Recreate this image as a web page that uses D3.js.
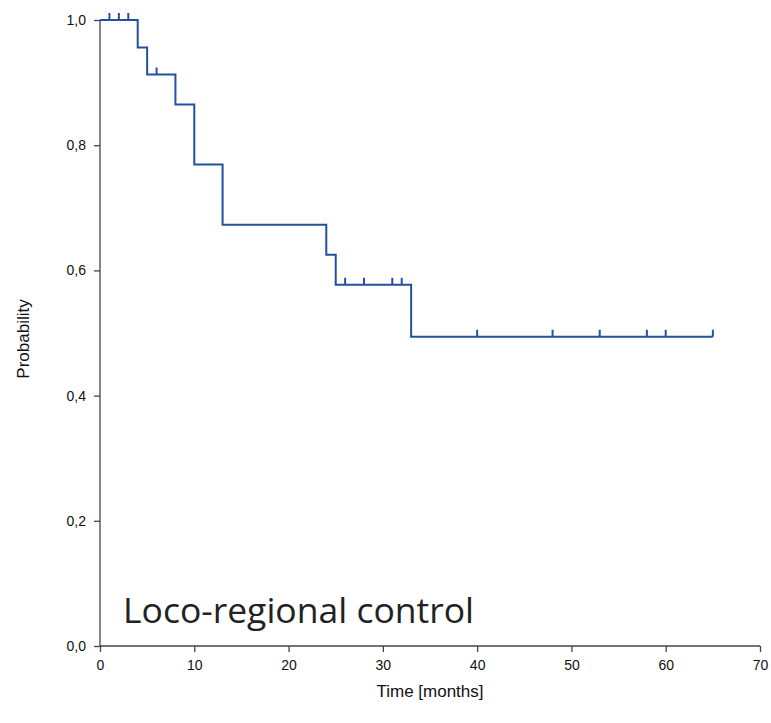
<!DOCTYPE html>
<html><head><meta charset="utf-8">
<script src="https://cdn.jsdelivr.net/npm/d3@7"></script>
<style>body{margin:0;background:#fff}svg text{font-family:"Liberation Sans",Arial,sans-serif}</style>
</head><body><svg id="c" width="771" height="723"></svg>
<script>
// step times and survival estimates
var stepTimes = [0, 4, 5, 8, 10, 13, 24, 25, 33, 65];
var stepProb = [1.0, 0.956, 0.913, 0.865, 0.769, 0.673, 0.625, 0.577, 0.494, 0.494];
var censorTimes = [1, 2, 3, 6, 26, 28, 31, 32, 40, 48, 53, 58, 60, 65];
var xTicks = [0, 10, 20, 30, 40, 50, 60, 70];
var yTicks = [0, 0.2, 0.4, 0.6, 0.8, 1.0];

var margin = {top: 20, left: 100, right: 11, bottom: 77};
var W = 771 - margin.left - margin.right, H = 723 - margin.top - margin.bottom;
var svg = d3.select("#c");
var g = svg.append("g").attr("transform", "translate(" + margin.left + "," + margin.top + ")");
var x = d3.scaleLinear().domain([0, 70]).range([0, W]);
var y = d3.scaleLinear().domain([0, 1]).range([H, 0]);
var fmt = function(d) { return d3.format(".1f")(d).replace(".", ","); };

var xa = g.append("g").attr("transform", "translate(0," + H + ")")
  .call(d3.axisBottom(x).tickValues(xTicks).tickSize(6).tickPadding(8));
var ya = g.append("g").call(d3.axisLeft(y).tickValues(yTicks).tickFormat(fmt).tickSize(6).tickPadding(8));
[xa, ya].forEach(function(a) {
  a.select(".domain").attr("stroke", "#444").attr("stroke-width", 1.3);
  a.selectAll(".tick line").attr("stroke", "#444").attr("stroke-width", 1.3);
  a.selectAll("text").attr("font-size", 14).attr("fill", "#111");
});
// remove domain end caps
xa.select(".domain").attr("d", "M0,0H" + W);
ya.select(".domain").attr("d", "M0," + H + "V0");

var pts = stepTimes.map(function(t, i) { return [t, stepProb[i]]; });
g.append("path").datum(pts)
  .attr("d", d3.line().x(function(d) { return x(d[0]); }).y(function(d) { return y(d[1]); }).curve(d3.curveStepAfter))
  .attr("fill", "none").attr("stroke", "#2450a0").attr("stroke-width", 2);

function probAt(t) {
  var p = 1;
  stepTimes.forEach(function(s, i) { if (s <= t) p = stepProb[i]; });
  return p;
}
g.selectAll(".cens").data(censorTimes).enter().append("line")
  .attr("x1", function(d) { return x(d); }).attr("x2", function(d) { return x(d); })
  .attr("y1", function(d) { return y(probAt(d)); }).attr("y2", function(d) { return y(probAt(d)) - 7; })
  .attr("stroke", "#2450a0").attr("stroke-width", 2);

svg.append("text").attr("x", 430).attr("y", 697).attr("text-anchor", "middle")
  .attr("font-size", 17).attr("fill", "#111").text("Time [months]");
svg.append("text").attr("transform", "translate(29," + (margin.top + H / 2 + 6) + ") rotate(-90)")
  .attr("text-anchor", "middle").attr("font-size", 17).attr("fill", "#111").text("Probability");
svg.append("text").attr("x", 123).attr("y", 623).attr("font-size", 35.5)
  .style("font-family", "'Open Sans', sans-serif").attr("fill", "#222").text("Loco-regional control");
</script></body></html>
